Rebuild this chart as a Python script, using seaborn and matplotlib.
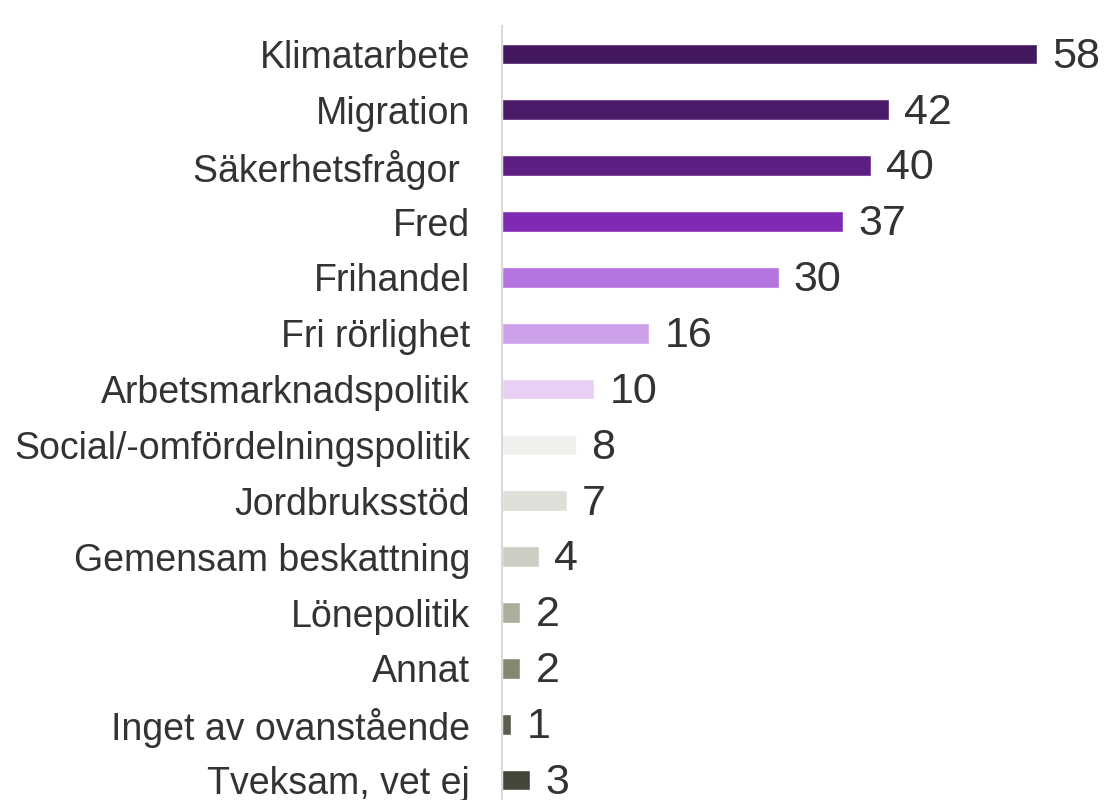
#! /usr/bin/env python3
import seaborn as sns
import pandas as pd
import matplotlib.pyplot as plt

# Data
categories = ['Klimatarbete', 'Migration', 'Säkerhetsfrågor ', 'Fred', 'Frihandel',
              'Fri rörlighet', 'Arbetsmarknadspolitik', 'Social/-omfördelningspolitik',
              'Jordbruksstöd', 'Gemensam beskattning', 'Lönepolitik', 'Annat',
              'Inget av ovanstående', 'Tveksam, vet ej']
values = [58, 42, 40, 37, 30, 16, 10, 8, 7, 4, 2, 2, 1, 3]
colours = ['#43185E', '#4B1A68', '#5E1F85', '#7F29B4', '#B374DF', '#CDA0EA', '#E7D0F3',
           '#EFF0EC', '#DEDFD8', '#CDCDC3', '#ACAD9C', '#878770', '#5C5D4E', '#45463A']

TEXT_COLOUR = '#333333'


def main():
    sns.set_theme(style='white')
    plt.rcParams['font.family'] = ['Liberation Sans', 'DejaVu Sans']

    df = pd.DataFrame({'category': categories, 'value': values})

    f = plt.figure(figsize=(11.07, 8), dpi=100)
    # axes placed in pixel terms: left edge at the axis line, bottom runs off the figure
    ax = f.add_axes([502 / 1107, -8 / 800, 553 / 1107, 782 / 800])

    sns.barplot(data=df, y='category', x='value', hue='category', palette=colours,
                orient='h', width=0.37, saturation=1, legend=False, ax=ax)

    ax.set_xlim(0, 60)
    ax.set_ylim(len(categories) - 0.5, -0.5)
    ax.set_xlabel('')
    ax.set_ylabel('')
    ax.set_xticks([])
    ax.tick_params(axis='y', length=0, pad=23, labelsize=27, labelcolor=TEXT_COLOUR)

    for side in ['top', 'right', 'bottom']:
        ax.spines[side].set_visible(False)
    ax.spines['left'].set_color('#D9D9D9')
    ax.spines['left'].set_linewidth(1.5)

    # value labels (offset is in points; nudge down so digits sit on the bar's centre)
    for container in ax.containers:
        for t in ax.bar_label(container, fmt='%d', padding=11, fontsize=31,
                              color=TEXT_COLOUR, clip_on=False):
            t.set_y(-2)

    f.savefig('out.png', dpi=100)


if __name__ == "__main__":
    main()
